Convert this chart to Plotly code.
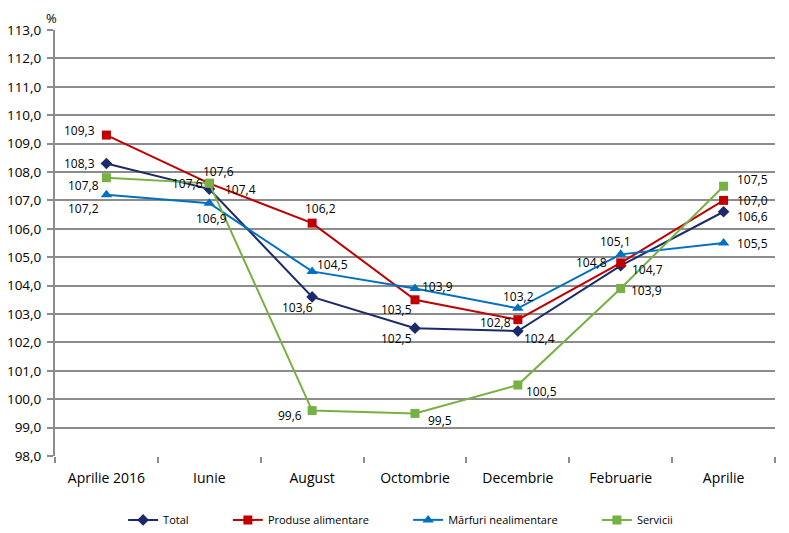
import plotly.graph_objects as go

categories = ["Aprilie 2016", "Iunie", "August", "Octombrie", "Decembrie", "Februarie", "Aprilie"]
total = [108.3, 107.4, 103.6, 102.5, 102.4, 104.7, 106.6]
produse = [109.3, 107.6, 106.2, 103.5, 102.8, 104.8, 107.0]
marfuri = [107.2, 106.9, 104.5, 103.9, 103.2, 105.1, 105.5]
servicii = [107.8, 107.6, 99.6, 99.5, 100.5, 103.9, 107.5]

# label offsets in pixels (dx right, dy down) relative to each point
total_off = [(-27, 0), (31, 0), (-15, 11), (-19, 10), (22, 7), (27, 4), (29, 5)]
produse_off = [(-27, -5), (-22, 0), (8, -15), (-19, 10), (-22, 3), (-29, 0), (29, 0)]
marfuri_off = [(-23, 14), (2, 15), (20, -7), (22, -2), (1, -12), (-5, -13), (29, 0)]
servicii_off = [(-23, 8), (9, -12), (-22, 5), (25, 7), (24, 6), (26, 2), (29, -7)]

PAD = "\u00a0" * 12
series = [
    ("Total", total, "#1B2A6B", "diamond", 9, total_off, PAD),
    ("Produse alimentare", produse, "#C00000", "square", 9, produse_off, PAD),
    ("Mărfuri nealimentare", marfuri, "#0070C0", "triangle-up", 10, marfuri_off, PAD),
    ("Servicii", servicii, "#77B043", "square", 9, servicii_off, ""),
]

def fmt(v):
    return f"{v:.1f}".replace(".", ",")

fig = go.Figure()
annotations = []
for name, vals, color, sym, size, offs, pad in series:
    fig.add_trace(go.Scatter(
        x=categories, y=vals, name=name + pad, mode="lines+markers",
        line=dict(color=color, width=2),
        marker=dict(symbol=sym, size=size, color=color),
    ))
    for c, v, (dx, dy) in zip(categories, vals, offs):
        annotations.append(dict(x=c, y=v, xref="x", yref="y", text=fmt(v), showarrow=False,
                                xshift=dx, yshift=-dy,
                                font=dict(family="Open Sans", size=12, color="#000000")))

annotations.append(dict(text="%", xref="paper", yref="paper", x=0, y=1, xanchor="right",
                        yanchor="bottom", showarrow=False, font=dict(size=13), xshift=4, yshift=1))

fig.update_layout(
    width=781, height=525,
    margin=dict(l=47, r=14, t=22, b=77),
    plot_bgcolor="white", paper_bgcolor="white",
    separators=",.",
    font=dict(family="Open Sans", color="#000000"),
    showlegend=True,
    legend=dict(orientation="h", x=0.48, xanchor="center", yref="container", y=0.025,
                yanchor="middle", font=dict(size=11), itemwidth=30),
    xaxis=dict(type="category", range=[-0.5, 6.5], tickson="boundaries", ticks="outside",
               ticklen=6, tickcolor="#8C8C8C", tickwidth=2, showgrid=False,
               showline=False, tickfont=dict(size=14), automargin=False,
               ticklabelstandoff=12),
    yaxis=dict(range=[98, 113], dtick=1, tickformat=".1f", showgrid=True,
               gridcolor="#8C8C8C", gridwidth=2, showline=True, linecolor="#8C8C8C",
               linewidth=2, ticks="outside", ticklen=6, tickcolor="#8C8C8C", tickwidth=2,
               tickfont=dict(size=13.5), zeroline=False, automargin=False,
               ticklabelstandoff=3),
    annotations=annotations,
)

fig.write_html("out.html")
